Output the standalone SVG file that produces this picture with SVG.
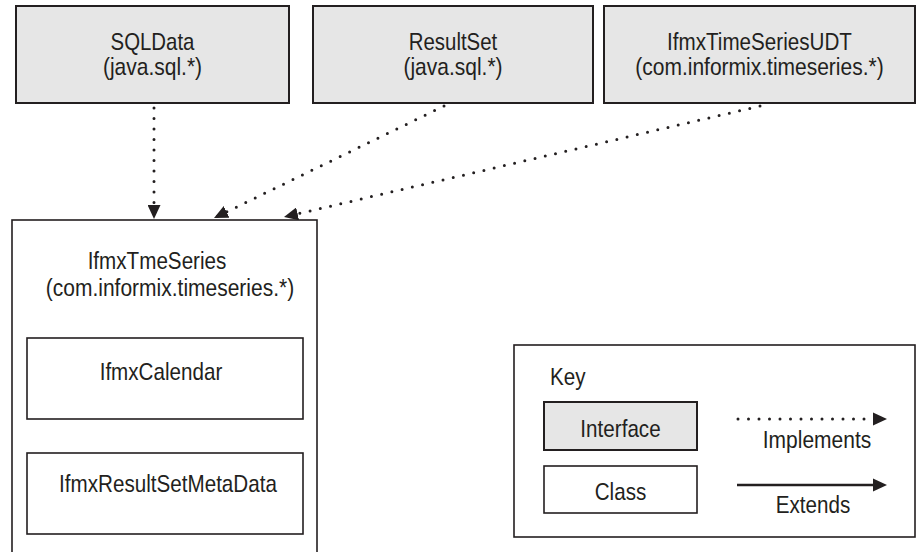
<svg xmlns="http://www.w3.org/2000/svg" width="919" height="552" viewBox="0 0 919 552">
<style>
.iface{fill:#e6e6e6;stroke:#231f20;stroke-width:2}
.cls{fill:#ffffff;stroke:#231f20;stroke-width:1.6}
text{font-family:"Liberation Sans",Arial,sans-serif;font-size:24px;fill:#231f20;text-anchor:middle}
.dot{fill:none;stroke:#231f20;stroke-width:3;stroke-linecap:round;stroke-dasharray:0 10.5}
.solid{fill:none;stroke:#231f20;stroke-width:2.4}
</style>
<defs>
<marker id="arr" markerUnits="userSpaceOnUse" markerWidth="15" markerHeight="13" refX="14" refY="6.5" orient="auto">
<path d="M0,0 L14,6.5 L0,13 z" fill="#231f20"/>
</marker>
</defs>
<rect width="919" height="552" fill="#ffffff"/>
<g id="sqldata">
<rect class="iface" x="16" y="6" width="273" height="97"/>
<text transform="translate(152.5,50) scale(0.85,1)">SQLData</text>
<text transform="translate(152.5,75) scale(0.875,1)">(java.sql.*)</text>
</g>
<g id="resultset">
<rect class="iface" x="313" y="6" width="280" height="97"/>
<text transform="translate(453,50) scale(0.85,1)">ResultSet</text>
<text transform="translate(453,75) scale(0.875,1)">(java.sql.*)</text>
</g>
<g id="ifmxtimeseriesudt">
<rect class="iface" x="604" y="6" width="311" height="97"/>
<text transform="translate(759.5,50) scale(0.86,1)">IfmxTimeSeriesUDT</text>
<text transform="translate(759.5,75) scale(0.875,1)">(com.informix.timeseries.*)</text>
</g>
<g id="ifmxtmeseries">
<rect class="cls" x="12" y="220" width="305" height="345"/>
<text transform="translate(157,269) scale(0.86,1)">IfmxTmeSeries</text>
<text transform="translate(170,295.5) scale(0.875,1)">(com.informix.timeseries.*)</text>
</g>
<g id="ifmxcalendar">
<rect class="cls" x="27" y="338" width="276" height="81"/>
<text transform="translate(161,380) scale(0.86,1)">IfmxCalendar</text>
</g>
<g id="ifmxresultsetmetadata">
<rect class="cls" x="27" y="453" width="276" height="81"/>
<text transform="translate(168,492) scale(0.86,1)">IfmxResultSetMetaData</text>
</g>
<g id="key">
<rect class="cls" x="514" y="345" width="401" height="192"/>
<text transform="translate(550,385) scale(0.86,1)" style="text-anchor:start">Key</text>
<rect class="iface" x="544" y="402" width="153" height="48"/>
<text transform="translate(620.5,437) scale(0.86,1)">Interface</text>
<rect class="cls" x="544" y="466" width="153" height="47"/>
<text transform="translate(620.5,500) scale(0.86,1)">Class</text>
<line class="dot" x1="738" y1="419" x2="873" y2="419"/>
<path d="M873,412.5 L887,419 L873,425.5 z" fill="#231f20"/>
<text transform="translate(817,448) scale(0.875,1)">Implements</text>
<line class="solid" x1="737" y1="485" x2="873" y2="485"/>
<path d="M873,478.5 L887,485 L873,491.5 z" fill="#231f20"/>
<text transform="translate(813,513) scale(0.86,1)">Extends</text>
</g>
<g id="connectors">
<line class="dot" x1="154" y1="108" x2="154" y2="219" marker-end="url(#arr)"/>
<line class="dot" x1="444" y1="106" x2="214" y2="218" marker-end="url(#arr)"/>
<line class="dot" x1="760" y1="106" x2="284" y2="217" marker-end="url(#arr)"/>
</g>
</svg>
